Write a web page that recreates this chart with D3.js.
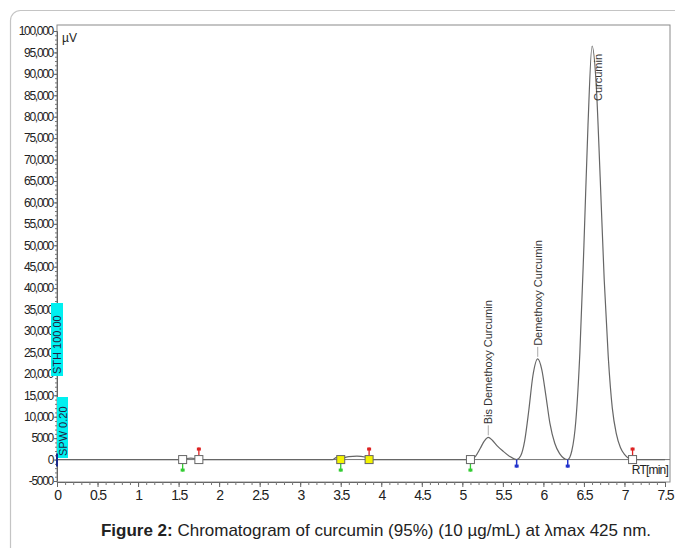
<!DOCTYPE html>
<html>
<head>
<meta charset="utf-8">
<script src="https://cdn.jsdelivr.net/npm/d3@7"></script>
<style>
  body { margin: 0; background: #fff; }
  svg { display: block; font-family: "Liberation Sans", Arial, sans-serif; }
</style>
</head>
<body>
<svg id="chart" width="675" height="548"></svg>
<script>
// chromatogram trace: retention time (min) and signal (µV)
const traceTime = [0, 1.5, 1.55, 1.6, 1.65, 1.7, 1.75, 3.4, 3.45, 3.5, 3.6, 3.7, 3.8, 3.85, 3.9,
  5.1, 5.16, 5.22, 5.27, 5.32, 5.37, 5.43, 5.5, 5.58, 5.67,
  5.72, 5.77, 5.82, 5.87, 5.93, 5.98, 6.03, 6.08, 6.14, 6.2, 6.3,
  6.35, 6.4, 6.45, 6.5, 6.55, 6.6, 6.65, 6.7, 6.75, 6.8, 6.85, 6.9, 6.95, 7.0, 7.1, 7.5];
const traceValue = [0, 0, 0, 250, 350, 250, 0, 0, 500, 300, 700, 800, 600, 200, 0,
  0, 700, 2600, 4300, 5200, 4500, 3200, 2000, 800, 0,
  900, 4500, 11500, 19500, 23500, 21000, 15000, 8500, 3800, 1400, 0,
  2000, 9000, 25000, 50000, 78000, 96500, 88000, 66000, 42000, 24000, 12000, 6000, 2800, 1200, 0, 0];

// peak annotations
const peakNames = ["Bis Demethoxy Curcumin", "Demethoxy Curcumin", "Curcumin"];
const peakTimes = [5.32, 5.93, 6.6];
const peakHeights = [5200, 23500, 96500];

// integration markers: time and kind
const markerTimes = [1.55, 1.75, 3.5, 3.85, 5.1, 5.67, 6.3, 7.1];
const markerKinds = ["start", "end", "startY", "endY", "start", "valley", "valley", "end"];

// axis ticks
const yTicks = [100000, 95000, 90000, 85000, 80000, 75000, 70000, 65000, 60000, 55000, 50000,
  45000, 40000, 35000, 30000, 25000, 20000, 15000, 10000, 5000, 0, -5000];
const yTickLabels = ["100,000", "95,000", "90,000", "85,000", "80,000", "75,000", "70,000", "65,000",
  "60,000", "55,000", "50,000", "45,000", "40,000", "35,000", "30,000", "25,000", "20,000",
  "15,000", "10,000", "5000", "0", "-5000"];
const xTicks = [0, 0.5, 1, 1.5, 2, 2.5, 3, 3.5, 4, 4.5, 5, 5.5, 6, 6.5, 7, 7.5];

const svg = d3.select("#chart");

// outer rounded frame
svg.append("rect")
  .attr("x", 10.5).attr("y", 10.5)
  .attr("width", 700).attr("height", 600)
  .attr("rx", 10)
  .attr("fill", "none")
  .attr("stroke", "#c4c4c4")
  .attr("stroke-width", 1.2);

const x = d3.scaleLinear().domain([0, 7.5]).range([57, 665]);
const y = d3.scaleLinear().domain([-5000, 100000]).range([481, 31]);

const plot = { left: 57, top: 25, right: 670, bottom: 482 };

// plot frame
svg.append("rect")
  .attr("x", plot.left).attr("y", plot.top)
  .attr("width", plot.right - plot.left).attr("height", plot.bottom - plot.top)
  .attr("fill", "none")
  .attr("stroke", "#8a8a8a");

// y axis
const yAxis = svg.append("g")
  .attr("transform", `translate(${plot.left},0)`)
  .call(d3.axisLeft(y)
    .tickValues(d3.range(-5000, 100001, 1000))
    .tickSize(2)
    .tickFormat(""));
yAxis.select(".domain").attr("stroke", "#666");
yAxis.selectAll(".tick line").attr("stroke", "#777");

const yMajor = svg.append("g")
  .attr("transform", `translate(${plot.left},0)`)
  .call(d3.axisLeft(y)
    .tickValues(yTicks)
    .tickSize(3)
    .tickPadding(1)
    .tickFormat((d, i) => yTickLabels[i]));
yMajor.select(".domain").remove();
yMajor.selectAll(".tick line").attr("stroke", "#666");
yMajor.selectAll("text")
  .attr("font-size", 12)
  .attr("letter-spacing", "-1.3px")
  .attr("fill", "#222");

// x axis
const xAxis = svg.append("g")
  .attr("transform", `translate(0,${plot.bottom})`)
  .call(d3.axisBottom(x)
    .tickValues(d3.range(0, 75.5, 1).map(d => d / 10))
    .tickSize(3)
    .tickFormat(""));
xAxis.select(".domain").attr("stroke", "#666");
xAxis.selectAll(".tick line").attr("stroke", "#777");

const xMajor = svg.append("g")
  .attr("transform", `translate(0,${plot.bottom})`)
  .call(d3.axisBottom(x)
    .tickValues(xTicks)
    .tickSize(5)
    .tickPadding(3)
    .tickFormat(d => String(d)));
xMajor.select(".domain").remove();
xMajor.selectAll(".tick line").attr("stroke", "#666");
xMajor.selectAll("text")
  .attr("font-size", 14)
  .attr("letter-spacing", "-1.2px")
  .attr("fill", "#222");

// zero baseline
svg.append("line")
  .attr("x1", plot.left).attr("x2", plot.right)
  .attr("y1", y(0)).attr("y2", y(0))
  .attr("stroke", "#777");

// axis titles
svg.append("text")
  .attr("x", 62).attr("y", 42)
  .attr("font-size", 12)
  .attr("fill", "#222")
  .text("µV");
svg.append("text")
  .attr("x", 668).attr("y", 474)
  .attr("text-anchor", "end")
  .attr("font-size", 12)
  .attr("letter-spacing", "-0.8px")
  .attr("fill", "#222")
  .text("RT[min]");

// cyan parameter tags
const tags = [
  { label: "STH 100.00", x0: 51, x1: 63, y0: 303, y1: 376 },
  { label: "SPW 0.20", x0: 57, x1: 68, y0: 397, y1: 458 }
];
tags.forEach(t => {
  svg.append("rect")
    .attr("x", t.x0).attr("y", t.y0)
    .attr("width", t.x1 - t.x0).attr("height", t.y1 - t.y0)
    .attr("fill", "#00f0f0");
  svg.append("text")
    .attr("transform", `translate(${(t.x0 + t.x1) / 2 + 4},${t.y1 - 2}) rotate(-90)`)
    .attr("font-size", 11)
    .attr("fill", "#224")
    .text(t.label);
});

// trace
const pts = traceTime.map((t, i) => [t, traceValue[i]]);
svg.append("path")
  .datum(pts)
  .attr("fill", "none")
  .attr("stroke", "#666")
  .attr("stroke-width", 1.2)
  .attr("d", d3.line()
    .x(d => x(d[0]))
    .y(d => y(d[1]))
    .curve(d3.curveMonotoneX));

// start-of-run marker
svg.append("line")
  .attr("x1", x(0)).attr("x2", x(0))
  .attr("y1", y(0) - 6).attr("y2", y(0) + 7)
  .attr("stroke", "#1a2a8a")
  .attr("stroke-width", 2);

// integration markers
markerTimes.forEach((t, i) => {
  const kind = markerKinds[i];
  const cx = x(t), cy = y(0);
  if (kind === "valley") {
    svg.append("line")
      .attr("x1", cx).attr("x2", cx)
      .attr("y1", cy).attr("y2", cy + 8)
      .attr("stroke", "#2233cc").attr("stroke-width", 1.5);
    svg.append("rect")
      .attr("x", cx - 2).attr("y", cy + 5)
      .attr("width", 4).attr("height", 3)
      .attr("fill", "#2233cc");
    return;
  }
  const isStart = kind.startsWith("start");
  const col = isStart ? "#33cc33" : "#dd2222";
  const y1 = isStart ? cy + 4 : cy - 4;
  const y2 = isStart ? cy + 12 : cy - 12;
  svg.append("line")
    .attr("x1", cx).attr("x2", cx)
    .attr("y1", y1).attr("y2", y2)
    .attr("stroke", col).attr("stroke-width", 1.3);
  svg.append("rect")
    .attr("x", cx - 2).attr("y", isStart ? y2 - 3 : y2)
    .attr("width", 4).attr("height", 3)
    .attr("fill", col);
  svg.append("rect")
    .attr("x", cx - 4).attr("y", cy - 4)
    .attr("width", 8).attr("height", 8)
    .attr("fill", kind.endsWith("Y") ? "#f4f400" : "#fff")
    .attr("stroke", "#666");
});

// peak labels
peakNames.forEach((name, i) => {
  const px = x(peakTimes[i]), py = y(peakHeights[i]);
  const last = i === peakNames.length - 1;
  if (!last) {
    svg.append("line")
      .attr("x1", px).attr("x2", px)
      .attr("y1", py - 2).attr("y2", py - 12)
      .attr("stroke", "#aaa");
  }
  const lx = last ? px + 10 : px + 4;
  const ly = last ? py + 55 : py - 13;
  svg.append("text")
    .attr("transform", `translate(${lx},${ly}) rotate(-90)`)
    .attr("font-size", 11)
    .attr("fill", "#333")
    .text(name);
});

// caption
svg.append("text")
  .attr("x", 376).attr("y", 536)
  .attr("text-anchor", "middle")
  .attr("font-size", 17)
  .attr("fill", "#222")
  .call(t => {
    t.append("tspan").attr("font-weight", "bold").text("Figure 2:");
    t.append("tspan").text(" Chromatogram of curcumin (95%) (10 µg/mL) at λmax 425 nm.");
  });
</script>
</body>
</html>
